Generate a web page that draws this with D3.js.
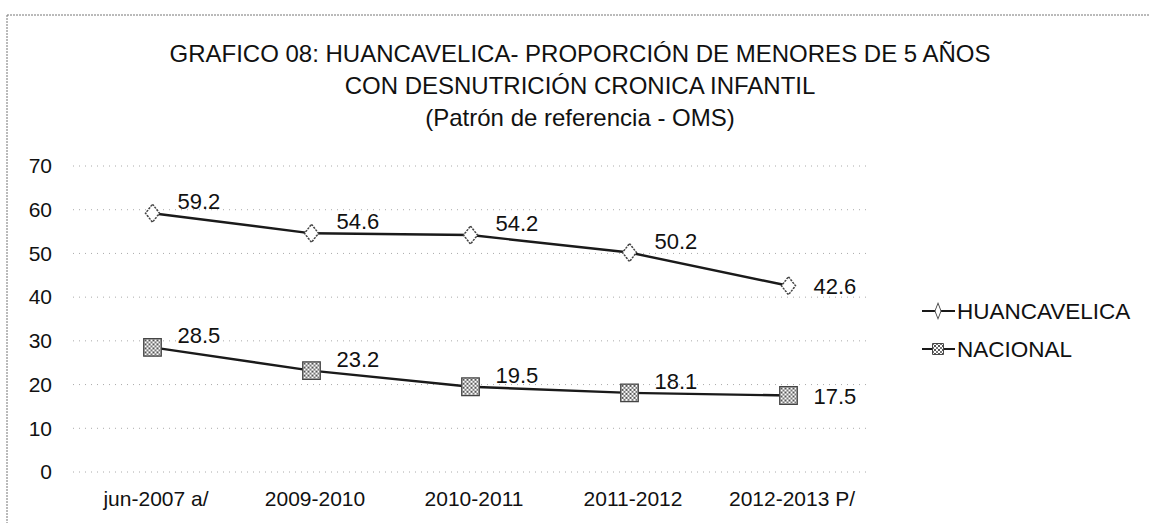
<!DOCTYPE html>
<html>
<head>
<meta charset="utf-8">
<script src="https://cdn.jsdelivr.net/npm/d3@7"></script>
<style>
  body { margin: 0; background: #fff; }
  svg { display: block; font-family: "Liberation Sans", Arial, sans-serif; }
</style>
</head>
<body>
<svg width="1149" height="523"></svg>
<script>
var categories = ["jun-2007 a/", "2009-2010", "2010-2011", "2011-2012", "2012-2013 P/"];
var huancavelica = [59.2, 54.6, 54.2, 50.2, 42.6];
var nacional = [28.5, 23.2, 19.5, 18.1, 17.5];
var yTicks = [0, 10, 20, 30, 40, 50, 60, 70];
var titleLines = [
  "GRAFICO 08: HUANCAVELICA-  PROPORCIÓN DE MENORES DE 5  AÑOS",
  "CON DESNUTRICIÓN CRONICA INFANTIL",
  "(Patrón de referencia - OMS)"
];
var seriesNames = ["HUANCAVELICA", "NACIONAL"];

var svg = d3.select("svg"),
    plotLeft = 73, plotRight = 868, plotTop = 166, plotBottom = 472;

// frame (scanned page border)
svg.append("line").attr("x1", 7).attr("x2", 1149).attr("y1", 15).attr("y2", 15)
    .attr("stroke", "#777").attr("stroke-dasharray", "2,1");
svg.append("line").attr("x1", 7).attr("x2", 7).attr("y1", 15).attr("y2", 523)
    .attr("stroke", "#777").attr("stroke-dasharray", "2,1");

// hatch pattern for nacional markers
var pat = svg.append("defs").append("pattern")
    .attr("id", "hatch").attr("width", 4).attr("height", 4)
    .attr("patternUnits", "userSpaceOnUse");
pat.append("rect").attr("width", 4).attr("height", 4).attr("fill", "#fff");
pat.append("rect").attr("width", 2).attr("height", 2).attr("fill", "#555");
pat.append("rect").attr("x", 2).attr("y", 2).attr("width", 2).attr("height", 2).attr("fill", "#777");

var x = d3.scalePoint().domain(categories).range([plotLeft, plotRight]).padding(0.5),
    y = d3.scaleLinear().domain([0, 70]).range([plotBottom, plotTop]);

// title
svg.append("g").selectAll("text")
    .data(titleLines)
  .enter().append("text")
    .attr("x", 580)
    .attr("y", function(d, i) { return 62 + i * 32; })
    .attr("text-anchor", "middle")
    .style("font-size", "24px")
    .attr("fill", "#111")
    .text(function(d) { return d; });

// gridlines
svg.append("g").selectAll("line")
    .data(yTicks)
  .enter().append("line")
    .attr("x1", plotLeft).attr("x2", plotRight)
    .attr("y1", function(d) { return y(d); })
    .attr("y2", function(d) { return y(d); })
    .attr("stroke", "#aaa")
    .attr("stroke-dasharray", "1,5");

// y axis labels
var yAxis = svg.append("g")
    .attr("transform", "translate(52,0)")
    .call(d3.axisLeft(y).tickValues(yTicks).tickSize(0).tickPadding(0));
yAxis.select(".domain").remove();
yAxis.selectAll("text").style("font-size", "21px").attr("fill", "#111")
    .attr("font-family", "Liberation Sans, Arial, sans-serif");

// x axis labels
var xAxis = svg.append("g")
    .attr("transform", "translate(3," + (plotBottom + 19) + ")")
    .call(d3.axisBottom(x).tickSize(0).tickPadding(0));
xAxis.select(".domain").remove();
xAxis.selectAll("text").style("font-size", "21px").attr("fill", "#111")
    .attr("font-family", "Liberation Sans, Arial, sans-serif");

var line = d3.line()
    .x(function(d, i) { return x(categories[i]); })
    .y(function(d) { return y(d); });

var series = [
  {name: seriesNames[0], values: huancavelica, symbol: d3.symbolDiamond, fill: "#fff", size: 94},
  {name: seriesNames[1], values: nacional, symbol: d3.symbolSquare, fill: "url(#hatch)", size: 310}
];

series.forEach(function(s) {
  svg.append("path")
      .attr("d", line(s.values))
      .attr("fill", "none")
      .attr("stroke", "#1a1a1a")
      .attr("stroke-width", 2.4);

  svg.append("g").selectAll("path")
      .data(s.values)
    .enter().append("path")
      .attr("transform", function(d, i) { return "translate(" + x(categories[i]) + "," + y(d) + ")" + (s.symbol === d3.symbolDiamond ? " scale(1.35,1)" : ""); })
      .attr("d", d3.symbol().type(s.symbol).size(s.size))
      .attr("fill", s.fill)
      .attr("stroke", "#444")
      .attr("stroke-width", 1.2)
      .attr("stroke-dasharray", s.symbol === d3.symbolDiamond ? "2,1" : null);

  svg.append("g").selectAll("text")
      .data(s.values)
    .enter().append("text")
      .attr("x", function(d, i) { return x(categories[i]) + 25; })
      .attr("y", function(d, i) { return y(d) + (i === s.values.length - 1 ? 8 : -4); })
      .style("font-size", "22px")
      .attr("fill", "#111")
      .text(function(d) { return d.toFixed(1); });
});

// legend
var legend = svg.append("g").selectAll("g")
    .data(series)
  .enter().append("g")
    .attr("transform", function(d, i) { return "translate(922," + (311 + i * 38) + ")"; });

legend.append("line")
    .attr("x1", 0).attr("x2", 33)
    .attr("stroke", "#1a1a1a").attr("stroke-width", 2);
legend.append("path")
    .attr("transform", function(d) { return "translate(16,0)" + (d.symbol === d3.symbolDiamond ? " scale(0.8,1.2)" : ""); })
    .attr("d", function(d) { return d3.symbol().type(d.symbol).size(d.symbol === d3.symbolDiamond ? 50 : 120)(); })
    .attr("fill", function(d) { return d.fill; })
    .attr("stroke", "#444").attr("stroke-width", 1);
legend.append("text")
    .attr("x", 35)
    .attr("dy", "0.35em")
    .style("font-size", "22.5px")
    .attr("fill", "#111")
    .text(function(d) { return d.name; });
</script>
</body>
</html>
